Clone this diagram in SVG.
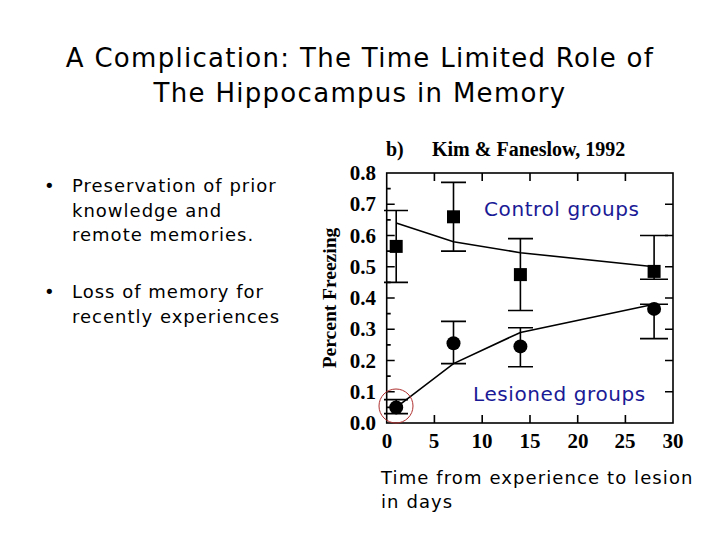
<svg xmlns="http://www.w3.org/2000/svg" width="720" height="540" viewBox="0 0 720 540">
<style>
.t{font-family:"DejaVu Sans",sans-serif;fill:#000}
.s{font-family:"Liberation Serif",serif;font-weight:bold;fill:#000}
.b{font-family:"DejaVu Sans",sans-serif;fill:#1a1a96;font-size:20px;letter-spacing:0.6px}
.ln{stroke:#000;stroke-width:1.6;fill:none}
</style>
<rect width="720" height="540" fill="#fff"/>
<g id="title" class="t" font-size="26" text-anchor="middle" letter-spacing="1.3">
<text x="360" y="67">A Complication: The Time Limited Role of</text>
<text x="360" y="102">The Hippocampus in Memory</text>
</g>
<g id="bullets" class="t" font-size="18" letter-spacing="1">
<text x="44" y="192">•</text><text x="72" y="192">Preservation of prior</text>
<text x="72" y="217">knowledge and</text>
<text x="72" y="241">remote memories.</text>
<text x="44" y="298">•</text><text x="72" y="298">Loss of memory for</text>
<text x="72" y="323">recently experiences</text>
</g>
<g id="chart">
<text class="s" x="386" y="156" font-size="20">b)</text>
<text class="s" x="432" y="156" font-size="20">Kim &amp; Faneslow, 1992</text>
<text class="s" font-size="19.5" transform="translate(336,298) rotate(-90)" text-anchor="middle">Percent Freezing</text>
<rect x="386.7" y="173" width="286.3" height="250" class="ln"/>
<g class="s" font-size="21" text-anchor="end">
<text x="376" y="180">0.8</text><text x="376" y="211">0.7</text><text x="376" y="243">0.6</text><text x="376" y="274">0.5</text><text x="376" y="305">0.4</text><text x="376" y="336">0.3</text><text x="376" y="368">0.2</text><text x="376" y="399">0.1</text><text x="376" y="430">0.0</text>
</g>
<g class="s" font-size="21" text-anchor="middle">
<text x="387" y="448">0</text><text x="434" y="448">5</text><text x="482" y="448">10</text><text x="530" y="448">15</text><text x="578" y="448">20</text><text x="625" y="448">25</text><text x="673" y="448">30</text>
</g>
<path class="ln" stroke-width="1.4" d="M386.7 204.25h8M386.7 235.5h8M386.7 266.75h8M386.7 298h8M386.7 329.25h8M386.7 360.5h8M386.7 391.75h8
M386.7 188.6h4M386.7 219.9h4M386.7 251.1h4M386.7 282.4h4M386.7 313.6h4M386.7 344.9h4M386.7 376.1h4M386.7 407.4h4
M673 204.25h-8M673 235.5h-8M673 266.75h-8M673 298h-8M673 329.25h-8M673 360.5h-8M673 391.75h-8
M434.4 423v-8M482.2 423v-8M530 423v-8M577.7 423v-8M625.4 423v-8
M434.4 173v8M482.2 173v8M530 173v8M577.7 173v8M625.4 173v8"/>
</g>
<g id="connectors" class="ln">
<path d="M396.2 223 L453.5 241.75 L520.4 252.7 L654.1 266.75"/>
<path d="M396.2 407.4 L453.5 363.6 L520.4 332.4 L654.1 304.25"/>
<path d="M396.2 282.4V210.5M384 210.5h24M384 282.4h24
M453.5 251.1V182.4M441 182.4h25M441 251.1h25
M520.4 310.5V238.6M508 238.6h25M508 310.5h25
M654.1 279.3V235.5M640 235.5h28M640 279.3h28
M396.2 413.6V399.6M384 399.6h24M384 413.6h24
M453.5 363.6V321.4M441 321.4h25M441 363.6h25
M520.4 366.75V327.7M508 327.7h25M508 366.75h25
M654.1 338.6V304.25M640 304.25h28M640 338.6h28"/>
</g>
<g id="control-points" fill="#000">
<rect x="389.7" y="239.9" width="13" height="13"/>
<rect x="447" y="210.3" width="13" height="13"/>
<rect x="513.9" y="268.1" width="13" height="13"/>
<rect x="647.6" y="264.9" width="13" height="13"/>
</g>
<g id="lesion-points" fill="#000">
<circle cx="396.2" cy="407.4" r="7"/>
<circle cx="453.5" cy="343.3" r="7"/>
<circle cx="520.4" cy="346.4" r="7"/>
<circle cx="654.1" cy="308.9" r="7"/>
</g>
<circle id="highlight" cx="396" cy="406" r="17" fill="none" stroke="#b03030" stroke-width="1"/>
<g id="labels">
<text class="b" x="484" y="216">Control groups</text>
<text class="b" x="473" y="401">Lesioned groups</text>
</g>
<g id="xlabel" class="t" font-size="18" letter-spacing="1.1">
<text x="381" y="484">Time from experience to lesion</text>
<text x="381" y="508">in days</text>
</g>
</svg>
